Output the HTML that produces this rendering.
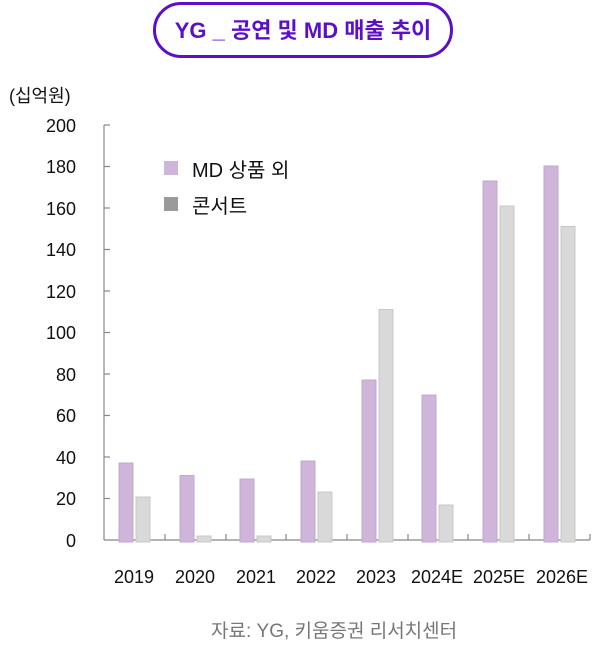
<!DOCTYPE html>
<html><head><meta charset="utf-8"><style>
body{margin:0;width:601px;height:653px;background:#fff;overflow:hidden;font-family:"Liberation Sans","Noto Sans CJK KR",sans-serif}
</style></head><body>
<svg width="601" height="653" xmlns="http://www.w3.org/2000/svg" style="position:absolute;left:0;top:0">
<rect x="154.5" y="3.5" width="297" height="53" rx="26.5" fill="#fff" stroke="#5b0fc8" stroke-width="3"/>
<text x="303" y="38" text-anchor="middle" font-size="22" font-weight="bold" fill="#5b0fc8" font-family="Liberation Sans,Noto Sans CJK KR,sans-serif">YG _ 공연 및 MD 매출 추이</text>
<text x="9" y="102" font-size="18" fill="#111" font-family="Liberation Sans,Noto Sans CJK KR,sans-serif">(십억원)</text>
<g font-size="18" fill="#111" text-anchor="end" font-family="Liberation Sans,sans-serif">
<text x="76" y="132">200</text><text x="76" y="173">180</text><text x="76" y="215">160</text><text x="76" y="256">140</text><text x="76" y="298">120</text><text x="76" y="339">100</text><text x="76" y="381">80</text><text x="76" y="422">60</text><text x="76" y="464">40</text><text x="76" y="505">20</text><text x="76" y="547">0</text>
</g>
<g stroke="#888" stroke-width="1.2">
<line x1="104" y1="125" x2="104" y2="540"/>
<line x1="104" y1="540" x2="590" y2="540"/>
<line x1="104" y1="125" x2="110" y2="125"/><line x1="104" y1="166.5" x2="110" y2="166.5"/><line x1="104" y1="208" x2="110" y2="208"/><line x1="104" y1="249.5" x2="110" y2="249.5"/><line x1="104" y1="291" x2="110" y2="291"/><line x1="104" y1="332.5" x2="110" y2="332.5"/><line x1="104" y1="374" x2="110" y2="374"/><line x1="104" y1="415.5" x2="110" y2="415.5"/><line x1="104" y1="457" x2="110" y2="457"/><line x1="104" y1="498.5" x2="110" y2="498.5"/>
<line x1="165" y1="534" x2="165" y2="540"/><line x1="226" y1="534" x2="226" y2="540"/><line x1="286" y1="534" x2="286" y2="540"/><line x1="347" y1="534" x2="347" y2="540"/><line x1="408" y1="534" x2="408" y2="540"/><line x1="468" y1="534" x2="468" y2="540"/><line x1="529" y1="534" x2="529" y2="540"/><line x1="590" y1="534" x2="590" y2="540"/>
</g>
<g stroke-width="1">
<rect x="119" y="463" width="14" height="79" fill="#cfb5d9" stroke="#c3a8cf"/><rect x="136" y="497" width="14" height="45" fill="#d9d9d9" stroke="#c8c8c8"/>
<rect x="180" y="475.5" width="14" height="66.5" fill="#cfb5d9" stroke="#c3a8cf"/><rect x="197" y="536" width="14" height="6" fill="#d9d9d9" stroke="#c8c8c8"/>
<rect x="240" y="479" width="14" height="63" fill="#cfb5d9" stroke="#c3a8cf"/><rect x="257" y="536" width="14" height="6" fill="#d9d9d9" stroke="#c8c8c8"/>
<rect x="301" y="461" width="14" height="81" fill="#cfb5d9" stroke="#c3a8cf"/><rect x="318" y="492" width="14" height="50" fill="#d9d9d9" stroke="#c8c8c8"/>
<rect x="362" y="380" width="14" height="162" fill="#cfb5d9" stroke="#c3a8cf"/><rect x="379" y="309.5" width="14" height="232.5" fill="#d9d9d9" stroke="#c8c8c8"/>
<rect x="422" y="395" width="14" height="147" fill="#cfb5d9" stroke="#c3a8cf"/><rect x="439" y="505" width="14" height="37" fill="#d9d9d9" stroke="#c8c8c8"/>
<rect x="483" y="181" width="14" height="361" fill="#cfb5d9" stroke="#c3a8cf"/><rect x="500" y="206" width="14" height="336" fill="#d9d9d9" stroke="#c8c8c8"/>
<rect x="544" y="166" width="14" height="376" fill="#cfb5d9" stroke="#c3a8cf"/><rect x="561" y="226.5" width="14" height="315.5" fill="#d9d9d9" stroke="#c8c8c8"/>
</g>
<g font-size="18" fill="#111" text-anchor="middle" font-family="Liberation Sans,sans-serif">
<text x="134" y="583">2019</text><text x="195" y="583">2020</text><text x="256" y="583">2021</text><text x="316" y="583">2022</text><text x="376" y="583">2023</text><text x="437" y="583">2024E</text><text x="499" y="583">2025E</text><text x="562" y="583">2026E</text>
</g>
<rect x="164" y="161" width="14" height="14" fill="#cfb5d9"/>
<rect x="164" y="197" width="14" height="14" fill="#9a9a9a"/>
<g font-size="20" fill="#111" font-family="Liberation Sans,Noto Sans CJK KR,sans-serif">
<text x="192" y="177">MD  상품  외</text>
<text x="192" y="213">콘서트</text>
</g>
<text x="211" y="637" font-size="19" fill="#777" font-family="Liberation Sans,Noto Sans CJK KR,sans-serif">자료: YG, 키움증권 리서치센터</text>
</svg>
</body></html>
